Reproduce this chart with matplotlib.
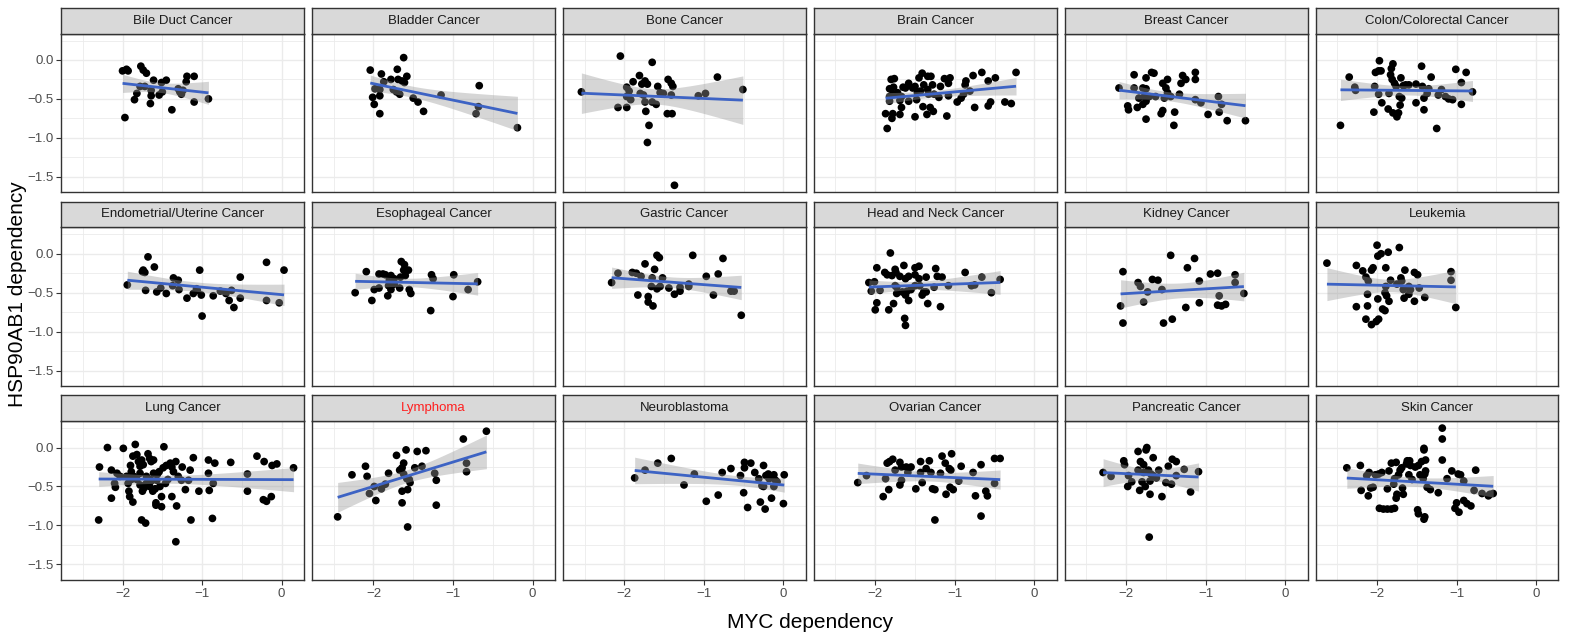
import numpy as np
import matplotlib
matplotlib.use("Agg")
import matplotlib.pyplot as plt

plt.rcParams['font.family'] = ['Liberation Sans', 'DejaVu Sans']

# ---------------- data ----------------
bile_x = [-2.0, -1.95, -1.93, -1.97, -1.85, -1.82, -1.77, -1.74, -1.70, -1.78, -1.72, -1.61, -1.64, -1.64, -1.65,
          -1.54, -1.50, -1.51, -1.45, -1.38, -1.30, -1.28, -1.24, -1.26, -1.19, -1.20, -1.10, -1.10, -0.92]
bile_y = [-0.14, -0.12, -0.14, -0.74, -0.51, -0.43, -0.08, -0.13, -0.17, -0.34, -0.34, -0.26, -0.39, -0.46, -0.56,
          -0.45, -0.41, -0.29, -0.26, -0.64, -0.37, -0.41, -0.39, -0.44, -0.21, -0.28, -0.21, -0.54, -0.50]

bladder_x = [-2.04, -1.90, -1.62, -1.70, -1.58, -1.78, -1.69, -1.64, -1.61, -1.87, -1.98, -1.92, -1.75, -1.71,
             -1.67, -1.92, -2.01, -1.99, -1.92, -1.50, -1.44, -1.37, -1.15, -0.67, -0.68, -0.71, -0.19]
bladder_y = [-0.13, -0.18, 0.03, -0.12, -0.21, -0.25, -0.25, -0.27, -0.29, -0.28, -0.37, -0.38, -0.38, -0.41,
             -0.44, -0.46, -0.48, -0.57, -0.69, -0.49, -0.54, -0.66, -0.45, -0.33, -0.60, -0.69, -0.87]

bone_x = [-2.54, -2.05, -1.65, -1.81, -1.89, -1.74, -1.78, -1.71, -1.97, -1.94, -1.97, -1.92, -1.80, -1.76,
          -1.58, -1.55, -1.51, -1.45, -1.41, -1.39, -1.41, -1.74, -1.65, -1.60, -2.08, -1.97, -1.73, -1.46,
          -1.40, -1.69, -1.71, -1.37, -1.07, -0.98, -0.83, -0.51]
bone_y = [-0.41, 0.05, -0.03, -0.20, -0.28, -0.27, -0.31, -0.31, -0.35, -0.40, -0.47, -0.51, -0.43, -0.45,
          -0.34, -0.42, -0.43, -0.25, -0.30, -0.34, -0.45, -0.54, -0.54, -0.57, -0.61, -0.61, -0.66, -0.69,
          -0.69, -0.84, -1.06, -1.61, -0.46, -0.43, -0.22, -0.38]

brain_x = [-1.85, -1.87, -1.78, -1.79, -1.69, -1.67, -1.82, -1.82, -1.78, -1.82, -1.77, -1.80, -1.76, -1.65,
           -1.58, -1.58, -1.69, -1.50, -1.48, -1.50, -1.45, -1.41, -1.34, -1.30, -1.39, -1.34, -1.28, -1.40,
           -1.31, -1.27, -1.35, -1.20, -1.18, -1.13, -1.06, -1.08, -1.10, -1.08, -1.53, -1.47, -1.26, -0.97,
           -0.92, -0.89, -0.87, -0.86, -0.81, -0.77, -0.75, -0.66, -0.58, -0.49, -0.55, -0.58, -0.37, -0.29,
           -0.23, -1.62, -1.43, -1.33, -1.72, -1.67]
brain_y = [-0.88, -0.69, -0.69, -0.75, -0.70, -0.61, -0.53, -0.47, -0.44, -0.37, -0.35, -0.25, -0.24, -0.35,
           -0.30, -0.53, -0.52, -0.73, -0.51, -0.34, -0.23, -0.17, -0.21, -0.21, -0.32, -0.38, -0.32, -0.60,
           -0.61, -0.66, -0.70, -0.48, -0.34, -0.24, -0.23, -0.30, -0.72, -0.46, -0.36, -0.42, -0.44, -0.54,
           -0.49, -0.44, -0.32, -0.27, -0.40, -0.20, -0.61, -0.16, -0.27, -0.23, -0.54, -0.59, -0.54, -0.56,
           -0.16, -0.36, -0.40, -0.44, -0.42, -0.47]

breast_x = [-2.09, -1.90, -1.90, -1.84, -1.79, -1.75, -1.68, -1.65, -1.75, -1.77, -1.71, -1.63, -1.98, -1.97,
            -1.86, -1.79, -1.75, -1.75, -1.54, -1.48, -1.50, -1.48, -1.44, -1.52, -1.54, -1.56, -1.39, -1.40,
            -1.33, -1.29, -1.25, -1.31, -1.13, -1.13, -1.13, -1.06, -0.97, -0.84, -0.80, -0.83, -0.73, -0.50]
breast_y = [-0.36, -0.19, -0.36, -0.49, -0.36, -0.23, -0.16, -0.17, -0.37, -0.47, -0.47, -0.47, -0.59, -0.64,
            -0.61, -0.57, -0.53, -0.76, -0.30, -0.25, -0.36, -0.42, -0.47, -0.49, -0.65, -0.69, -0.67, -0.84,
            -0.44, -0.20, -0.25, -0.30, -0.16, -0.25, -0.51, -0.55, -0.70, -0.47, -0.57, -0.67, -0.78, -0.78]

colon_x = [-2.46, -2.35, -2.28, -2.27, -2.03, -2.04, -1.97, -2.02, -1.98, -1.95, -1.98, -1.94, -1.85, -1.80,
           -1.82, -1.83, -1.81, -1.78, -1.76, -1.86, -1.80, -1.75, -1.73, -1.71, -1.72, -1.69, -1.70, -1.64,
           -1.60, -1.51, -1.44, -1.43, -1.51, -1.41, -1.41, -1.35, -1.37, -1.32, -1.25, -1.23, -1.19, -1.14,
           -1.10, -1.05, -1.01, -0.94, -0.94, -0.88, -0.80, -1.67]
colon_y = [-0.84, -0.22, -0.35, -0.39, -0.34, -0.67, -0.01, -0.16, -0.14, -0.14, -0.44, -0.55, -0.43, -0.05,
           -0.11, -0.19, -0.25, -0.30, -0.34, -0.63, -0.68, -0.73, -0.68, -0.58, -0.47, -0.49, -0.23, -0.32,
           -0.32, -0.31, -0.08, -0.34, -0.55, -0.64, -0.49, -0.37, -0.43, -0.22, -0.88, -0.45, -0.38, -0.47,
           -0.50, -0.51, -0.12, -0.29, -0.57, -0.16, -0.41, -0.33]

endo_x = [-1.94, -1.74, -1.75, -1.72, -1.68, -1.60, -1.71, -1.57, -1.52, -1.45, -1.36, -1.30, -1.37, -1.29,
          -1.19, -1.11, -1.07, -1.03, -1.01, -1.00, -0.86, -0.77, -0.70, -0.66, -0.63, -0.60, -0.52, -0.52,
          -0.19, -0.19, -0.03, 0.03, -1.06]
endo_y = [-0.40, -0.21, -0.23, -0.24, -0.04, -0.17, -0.47, -0.49, -0.44, -0.51, -0.31, -0.34, -0.41, -0.46,
          -0.57, -0.51, -0.45, -0.21, -0.53, -0.80, -0.54, -0.48, -0.51, -0.60, -0.47, -0.69, -0.57, -0.30,
          -0.11, -0.60, -0.63, -0.21, -0.47]

eso_x = [-2.23, -2.09, -2.02, -1.99, -1.93, -1.93, -1.88, -1.85, -1.78, -1.82, -1.81, -1.78, -1.74, -1.80,
         -1.67, -1.66, -1.65, -1.61, -1.62, -1.56, -1.60, -1.55, -1.53, -1.27, -1.25, -1.28, -0.99, -1.00,
         -0.81, -0.69, -1.74]
eso_y = [-0.50, -0.23, -0.60, -0.46, -0.44, -0.26, -0.26, -0.27, -0.28, -0.54, -0.41, -0.46, -0.39, -0.34,
         -0.44, -0.30, -0.10, -0.14, -0.21, -0.21, -0.28, -0.46, -0.51, -0.27, -0.32, -0.73, -0.27, -0.55,
         -0.46, -0.36, -0.32]

gastric_x = [-2.16, -2.08, -1.90, -1.85, -1.79, -1.74, -1.59, -1.56, -1.62, -1.65, -1.52, -1.66, -1.59, -1.55,
             -1.83, -1.70, -1.70, -1.64, -1.44, -1.37, -1.30, -1.30, -1.19, -1.19, -1.14, -0.97, -0.88, -0.82,
             -0.76, -0.66, -0.62, -0.53]
gastric_y = [-0.37, -0.25, -0.24, -0.25, -0.29, -0.13, -0.02, -0.05, -0.20, -0.31, -0.31, -0.42, -0.45, -0.42,
             -0.53, -0.55, -0.62, -0.67, -0.44, -0.52, -0.43, -0.48, -0.42, -0.39, -0.02, -0.29, -0.53, -0.26,
             -0.06, -0.48, -0.48, -0.79]

headneck_x = [-2.08, -2.01, -2.05, -1.94, -1.98, -2.00, -1.98, -1.83, -1.77, -1.81, -1.88, -1.85, -1.79, -1.75,
              -1.74, -1.69, -1.64, -1.58, -1.62, -1.50, -1.45, -1.50, -1.45, -1.36, -1.24, -1.22, -1.16, -1.73,
              -1.66, -1.60, -1.55, -1.73, -1.62, -1.58, -1.63, -1.62, -1.41, -1.39, -1.36, -1.34, -1.18, -1.26,
              -1.08, -0.87, -0.79, -0.75, -0.66, -0.54, -0.43, -1.75, -1.50, -1.44]
headneck_y = [-0.37, -0.36, -0.48, -0.47, -0.18, -0.72, -0.63, -0.72, -0.64, 0.01, -0.24, -0.27, -0.28, -0.20,
              -0.24, -0.29, -0.15, -0.29, -0.32, -0.18, -0.16, -0.27, -0.32, -0.30, -0.19, -0.29, -0.30, -0.43,
              -0.49, -0.48, -0.46, -0.51, -0.53, -0.60, -0.83, -0.92, -0.53, -0.49, -0.49, -0.64, -0.68, -0.43,
              -0.41, -0.24, -0.41, -0.40, -0.30, -0.50, -0.33, -0.41, -0.41, -0.41]

kidney_x = [-2.04, -2.07, -2.04, -1.85, -1.82, -1.78, -1.73, -1.67, -1.60, -1.55, -1.53, -1.44, -1.42, -1.25,
            -1.23, -1.14, -1.08, -1.08, -0.94, -0.85, -0.83, -0.85, -0.80, -0.75, -0.63, -0.63, -0.52]
kidney_y = [-0.23, -0.67, -0.89, -0.37, -0.42, -0.62, -0.49, -0.33, -0.34, -0.46, -0.89, -0.02, -0.84, -0.69,
            -0.18, -0.06, -0.35, -0.63, -0.26, -0.25, -0.54, -0.66, -0.67, -0.65, -0.27, -0.37, -0.51]

leuk_x = [-2.63, -2.26, -2.26, -2.14, -2.07, -2.01, -1.98, -2.00, -1.99, -1.95, -1.86, -1.72, -2.18, -2.07,
          -2.05, -1.89, -2.14, -2.11, -2.12, -2.12, -1.99, -1.93, -1.90, -1.90, -1.88, -1.85, -1.83, -1.89,
          -1.75, -1.70, -1.69, -1.65, -1.67, -1.66, -1.60, -1.60, -1.53, -1.49, -1.53, -1.47, -1.40, -1.07,
          -1.07, -1.01, -1.58]
leuk_y = [-0.12, -0.15, -0.68, -0.84, -0.91, -0.87, -0.84, 0.11, -0.03, 0.00, 0.02, 0.08, -0.22, -0.21,
          -0.18, -0.18, -0.30, -0.35, -0.52, -0.67, -0.58, -0.71, -0.73, -0.50, -0.54, -0.61, -0.34, -0.42,
          -0.39, -0.31, -0.35, -0.21, -0.46, -0.57, -0.52, -0.42, -0.24, -0.27, -0.61, -0.44, -0.56, -0.23,
          -0.34, -0.69, -0.46]

lung_x = [-2.30, -2.29, -2.19, -2.14, -2.14, -2.07, -2.10, -2.09, -1.99, -1.93, -1.92, -1.91, -1.87, -1.90,
          -1.89, -1.87, -1.84, -1.82, -1.80, -1.86, -1.82, -1.78, -1.76, -1.74, -1.76, -1.71, -1.75, -1.73,
          -1.70, -1.68, -1.66, -1.64, -1.61, -1.61, -1.65, -1.66, -1.62, -1.59, -1.57, -1.56, -1.58, -1.58,
          -1.51, -1.51, -1.54, -1.49, -1.48, -1.46, -1.45, -1.40, -1.38, -1.38, -1.36, -1.33, -1.32, -1.33,
          -1.30, -1.26, -1.25, -1.21, -1.17, -1.15, -1.14, -1.11, -1.04, -0.92, -0.92, -0.91, -0.87, -0.84,
          -0.86, -0.64, -0.43, -0.43, -0.31, -0.22, -0.23, -0.19, -0.13, -0.12, -0.06, 0.15, -1.95, -1.89,
          -1.78, -1.70, -1.64, -1.53, -1.43, -1.78, -2.03]
lung_y = [-0.93, -0.25, 0.00, -0.29, -0.65, -0.33, -0.46, -0.51, -0.01, -0.46, -0.56, -0.63, -0.70, -0.23,
          -0.31, -0.11, 0.04, -0.09, -0.18, -0.37, -0.41, -0.33, -0.16, -0.22, -0.93, -0.97, -0.56, -0.52,
          -0.46, -0.08, -0.14, -0.18, -0.16, -0.33, -0.41, -0.50, -0.56, -0.53, -0.42, -0.34, -0.71, -0.74,
          -0.63, -0.76, -0.31, -0.26, 0.01, -0.46, -0.23, -0.20, -0.25, -0.63, -0.31, -0.18, -0.75, -1.21,
          -0.37, -0.42, -0.25, -0.54, -0.42, -0.29, -0.93, -0.13, -0.56, -0.33, -0.16, -0.55, -0.91, -0.20,
          -0.46, -0.19, -0.34, -0.56, -0.11, -0.18, -0.67, -0.69, -0.63, -0.23, -0.21, -0.26, -0.37, -0.41,
          -0.48, -0.37, -0.43, -0.50, -0.41, -0.24, -0.37]

lymph_x = [-2.45, -2.27, -2.10, -2.08, -2.05, -1.99, -1.97, -1.90, -1.85, -1.81, -1.71, -1.67, -1.64, -1.62,
           -1.59, -1.62, -1.58, -1.55, -1.54, -1.64, -1.57, -1.64, -1.57, -1.48, -1.45, -1.39, -1.34, -1.23,
           -1.21, -1.21, -0.87, -0.83, -0.83, -0.58]
lymph_y = [-0.89, -0.35, -0.24, -0.37, -0.59, -0.50, -0.68, -0.53, -0.47, -0.33, -0.10, -0.29, -0.26, -0.20,
           -0.03, -0.34, -0.40, -0.41, -0.45, -0.56, -0.54, -0.71, -1.02, -0.26, -0.05, -0.24, -0.04, -0.33,
           -0.42, -0.74, 0.11, -0.20, -0.31, 0.21]

neuro_x = [-1.87, -1.74, -1.58, -1.41, -1.25, -1.12, -0.97, -0.82, -0.77, -0.66, -0.54, -0.49, -0.49, -0.41,
           -0.50, -0.45, -0.36, -0.25, -0.29, -0.23, -0.22, -0.19, -0.18, -0.15, -0.12, -0.10, -0.08, -0.12,
           0.00, 0.01, -0.31, -0.27, -0.25]
neuro_y = [-0.39, -0.29, -0.20, -0.14, -0.48, -0.34, -0.69, -0.61, -0.32, -0.27, -0.36, -0.19, -0.26, -0.20,
           -0.58, -0.77, -0.32, -0.23, -0.70, -0.79, -0.36, -0.34, -0.40, -0.65, -0.35, -0.42, -0.44, -0.50,
           -0.72, -0.35, -0.40, -0.49, -0.50]

ovarian_x = [-2.22, -2.11, -1.90, -1.83, -1.87, -1.85, -1.82, -1.78, -1.75, -1.69, -1.69, -1.67, -1.67, -1.61,
             -1.55, -1.59, -1.49, -1.43, -1.41, -1.43, -1.36, -1.32, -1.30, -1.28, -1.25, -1.25, -1.18, -1.16,
             -1.12, -1.11, -1.07, -1.04, -1.05, -1.06, -1.02, -0.95, -0.92, -0.77, -0.74, -0.67, -0.67, -0.61,
             -0.59, -0.50, -0.43, -0.50]
ovarian_y = [-0.45, -0.36, -0.63, -0.54, -0.40, -0.20, -0.18, -0.15, -0.29, -0.19, -0.48, -0.42, -0.25, -0.25,
             -0.25, -0.32, -0.53, -0.18, -0.45, -0.32, -0.27, -0.17, -0.32, -0.53, -0.54, -0.93, -0.33, -0.11,
             -0.20, -0.60, -0.27, -0.08, -0.29, -0.51, -0.54, -0.43, -0.24, -0.32, -0.62, -0.22, -0.88, -0.56,
             -0.62, -0.14, -0.14, -0.46]

pancreas_x = [-2.29, -2.19, -2.03, -2.02, -1.98, -1.93, -1.85, -1.74, -1.75, -1.66, -1.82, -1.78, -1.85, -1.78,
              -1.72, -1.69, -1.80, -1.76, -1.83, -1.70, -1.70, -1.62, -1.59, -1.55, -1.50, -1.43, -1.47, -1.42,
              -1.37, -1.37, -1.27, -1.19, -1.09, -1.71, -1.97, -1.66]
pancreas_y = [-0.32, -0.37, -0.17, -0.22, -0.50, -0.44, -0.05, 0.00, -0.03, -0.13, -0.18, -0.22, -0.29, -0.32,
              -0.29, -0.34, -0.44, -0.50, -0.55, -0.60, -0.43, -0.39, -0.29, -0.63, -0.45, -0.47, -0.24, -0.15,
              -0.18, -0.36, -0.28, -0.57, -0.31, -1.15, -0.36, -0.36]

skin_x = [-2.38, -2.21, -2.20, -2.11, -2.10, -2.13, -2.08, -2.05, -2.02, -1.98, -1.94, -1.97, -1.92, -1.87,
          -1.82, -1.78, -1.87, -1.85, -1.82, -1.76, -1.78, -1.79, -1.75, -1.76, -1.73, -1.71, -1.69, -1.68,
          -1.67, -1.63, -1.62, -1.59, -1.58, -1.56, -1.60, -1.52, -1.48, -1.44, -1.39, -1.41, -1.41, -1.46,
          -1.42, -1.40, -1.39, -1.37, -1.33, -1.49, -1.48, -1.41, -1.40, -1.23, -1.18, -1.18, -1.18, -1.12,
          -1.06, -1.00, -1.02, -0.97, -0.98, -0.95, -0.91, -0.91, -0.87, -0.82, -0.76, -0.78, -0.68, -0.60,
          -0.54, -0.58]
skin_y = [-0.26, -0.23, -0.55, -0.62, -0.32, -0.36, -0.52, -0.51, -0.35, -0.34, -0.32, -0.78, -0.79, -0.79,
          -0.79, -0.78, -0.53, -0.30, -0.20, -0.19, -0.40, -0.47, -0.60, -0.65, -0.35, -0.29, -0.26, -0.52,
          -0.60, -0.21, -0.17, -0.17, -0.23, -0.41, -0.35, -0.25, -0.23, -0.18, -0.16, -0.01, -0.03, -0.35,
          -0.40, -0.34, -0.30, -0.51, -0.54, -0.80, -0.85, -0.92, -0.89, -0.58, 0.25, 0.11, -0.16, -0.40,
          -0.30, -0.71, -0.78, -0.83, -0.34, -0.35, -0.43, -0.68, -0.72, -0.75, -0.29, -0.55, -0.59, -0.62,
          -0.59, -0.60]

panel_titles = ["Bile Duct Cancer", "Bladder Cancer", "Bone Cancer", "Brain Cancer", "Breast Cancer",
                "Colon/Colorectal Cancer", "Endometrial/Uterine Cancer", "Esophageal Cancer", "Gastric Cancer",
                "Head and Neck Cancer", "Kidney Cancer", "Leukemia", "Lung Cancer", "Lymphoma", "Neuroblastoma",
                "Ovarian Cancer", "Pancreatic Cancer", "Skin Cancer"]
panel_data = [(bile_x, bile_y), (bladder_x, bladder_y), (bone_x, bone_y), (brain_x, brain_y),
              (breast_x, breast_y), (colon_x, colon_y), (endo_x, endo_y), (eso_x, eso_y),
              (gastric_x, gastric_y), (headneck_x, headneck_y), (kidney_x, kidney_y), (leuk_x, leuk_y),
              (lung_x, lung_y), (lymph_x, lymph_y), (neuro_x, neuro_y), (ovarian_x, ovarian_y),
              (pancreas_x, pancreas_y), (skin_x, skin_y)]
highlight = "Lymphoma"

x_ticks = [-2, -1, 0]
y_ticks = [0.0, -0.5, -1.0, -1.5]
x_label = "MYC dependency"
y_label = "HSP90AB1 dependency"


def t975(df):
    z = 1.959964
    return (z + (z**3 + z) / (4 * df) + (5 * z**5 + 16 * z**3 + 3 * z) / (96 * df**2)
            + (3 * z**7 + 19 * z**5 + 17 * z**3 - 15 * z) / (384 * df**3))


def lm_fit(x, y, n_pts=80):
    x = np.asarray(x, float)
    y = np.asarray(y, float)
    n = len(x)
    xm = x.mean()
    sxx = ((x - xm) ** 2).sum()
    b = ((x - xm) * (y - y.mean())).sum() / sxx
    a = y.mean() - b * xm
    resid = y - (a + b * x)
    s = np.sqrt((resid ** 2).sum() / (n - 2))
    xs = np.linspace(x.min(), x.max(), n_pts)
    yh = a + b * xs
    se = s * np.sqrt(1.0 / n + (xs - xm) ** 2 / sxx)
    t = t975(n - 2)
    return xs, yh, yh - t * se, yh + t * se


# ---------------- layout ----------------
W, H = 1569, 637
fig = plt.figure(figsize=(W / 100, H / 100), dpi=100)

col_left0, col_pitch, pw = 61.3, 250.9, 242.6
strip_top0, row_pitch, strip_h, ph = 7.7, 193.8, 25.8, 158.8
xlim = (-2.77, 0.28)
ylim = (-1.70, 0.34)

border_col = "#333333"
grid_col = "#EBEBEB"

for i, (title, (xv, yv)) in enumerate(zip(panel_titles, panel_data)):
    r, c = divmod(i, 6)
    left = col_left0 + c * col_pitch
    stop = strip_top0 + r * row_pitch
    ptop = stop + strip_h
    pbot = ptop + ph

    ax = fig.add_axes([left / W, (H - pbot) / H, pw / W, ph / H])
    ax.set_xlim(*xlim)
    ax.set_ylim(*ylim)
    ax.set_xticks(x_ticks)
    ax.set_yticks(y_ticks)
    ax.set_xticks([-2.5, -1.5, -0.5], minor=True)
    ax.set_yticks([0.25, -0.25, -0.75, -1.25], minor=True)
    ax.grid(True, which="major", color=grid_col, lw=1.0, zorder=0)
    ax.grid(True, which="minor", color=grid_col, lw=0.6, zorder=0)
    ax.set_axisbelow(True)
    for sp in ax.spines.values():
        sp.set_color(border_col)
        sp.set_linewidth(1.0)
    ax.tick_params(which="minor", length=0)
    ax.tick_params(which="major", color=border_col, labelcolor="#4D4D4D", labelsize=9.5,
                   length=3.5, width=0.8, pad=2)
    if r != 2:
        ax.tick_params(axis="x", which="major", length=0, labelbottom=False)
    else:
        ax.set_xticklabels(["\u22122", "\u22121", "0"])
    if c != 0:
        ax.tick_params(axis="y", which="major", length=0, labelleft=False)
    else:
        ax.set_yticklabels(["0.0", "\u22120.5", "\u22121.0", "\u22121.5"])

    ax.scatter(xv, yv, s=31, color="black", edgecolors="none", zorder=2)
    xs, yh, lo, hi = lm_fit(xv, yv)
    ax.fill_between(xs, lo, hi, color="#999999", alpha=0.4, lw=0, zorder=3)
    ax.plot(xs, yh, color="#3D63C4", lw=2.0, zorder=4, solid_capstyle="butt")

    sax = fig.add_axes([left / W, (H - ptop) / H, pw / W, strip_h / H])
    sax.set_facecolor("#D9D9D9")
    sax.set_xticks([])
    sax.set_yticks([])
    for sp in sax.spines.values():
        sp.set_color(border_col)
        sp.set_linewidth(1.0)
    sax.text(0.5, 0.5, title, ha="center", va="center", fontsize=9.5,
             color="#FF2020" if title == highlight else "#1A1A1A", transform=sax.transAxes)

fig.text((col_left0 + (5 * col_pitch + pw) / 2) / W, (H - 622) / H, x_label,
         ha="center", va="center", fontsize=15, color="black")
fig.text(18 / W, (H - 294.5) / H, y_label, ha="center", va="center", rotation=90,
         fontsize=15, color="black")

fig.savefig("out.png", dpi=100)
